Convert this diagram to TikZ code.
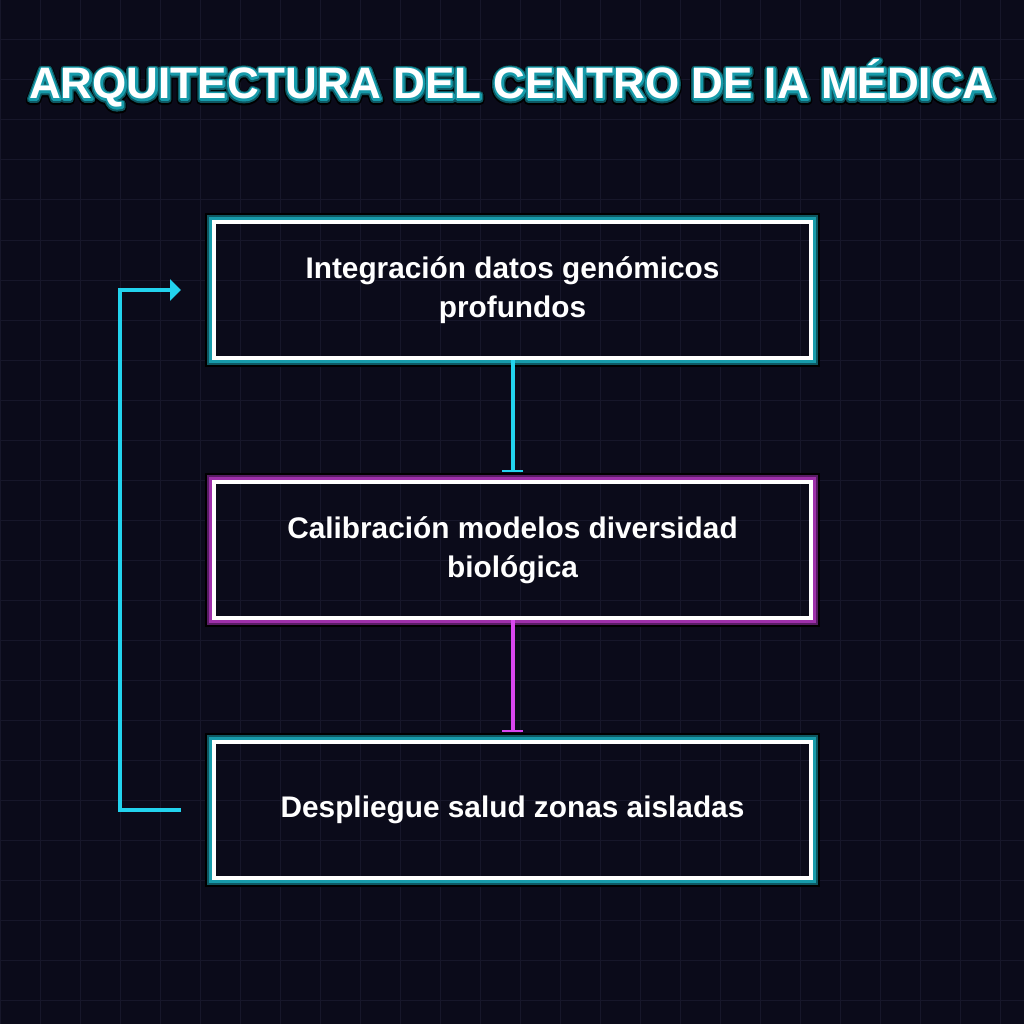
\documentclass[tikz,border=0pt]{standalone}
\usepackage{fontspec}
\setmainfont{Liberation Sans}
\newfontfamily\glowK[FakeBold=20.5]{Liberation Sans Bold}
\newfontfamily\glowD[FakeBold=15.5]{Liberation Sans Bold}
\newfontfamily\glowT[FakeBold=9]{Liberation Sans Bold}
\usetikzlibrary{arrows.meta}
\definecolor{bgc}{RGB}{11,11,26}
\definecolor{gridc}{RGB}{23,23,42}
\definecolor{tealA}{RGB}{23,155,170}
\definecolor{tealB}{RGB}{14,88,98}
\definecolor{magA}{RGB}{158,48,170}
\definecolor{magB}{RGB}{88,28,100}
\definecolor{cyanl}{RGB}{34,211,238}
\definecolor{magl}{RGB}{217,70,239}
\newcommand{\myglow}[3]{%
  \draw[black, line width=2pt] ([shift={(-8.3,-8.3)}]#1.north west) rectangle ([shift={(8.3,8.3)}]#1.south east);
  \draw[#3, line width=2.4pt] ([shift={(-6.1,-6.1)}]#1.north west) rectangle ([shift={(6.1,6.1)}]#1.south east);
  \draw[#2, line width=3pt] ([shift={(-3.5,-3.5)}]#1.north west) rectangle ([shift={(3.5,3.5)}]#1.south east);
}
\newcommand{\mytitle}{ARQUITECTURA DEL CENTRO DE IA MÉDICA}
\begin{document}
\begin{tikzpicture}[x=1pt,y=-1pt,
  card/.style={draw=white, line width=4pt, minimum width=597pt, minimum height=136pt,
    inner sep=0pt, outer sep=0pt, align=center, text=white,
    font=\bfseries\fontsize{29.8}{39}\selectfont},
  titlesize/.style={anchor=base, inner sep=0pt, line join=round, miter limit=1},
  cyanline/.style={draw=cyanl, line width=4pt},
  magline/.style={draw=magl, line width=4pt},
  bartip/.style={-{Bar[width=21pt, line width=2.5pt]}}
]
\fill[bgc] (0,0) rectangle (1024,1024);
\useasboundingbox (0,0) rectangle (1024,1024);
\foreach \i in {0,40,...,1000} {
  \draw[gridc, line width=1pt] (\i,0) -- (\i,1024);
  \draw[gridc, line width=1pt] (0,\i) -- (1024,\i);
}
% title with glow
\begin{scope}[line join=round, miter limit=1]
\node[titlesize, text=black, font=\glowK\fontsize{44}{50}\selectfont] (titleK) at (512,100.5) {\mytitle};
\node[titlesize, text=tealB, font=\glowD\fontsize{44}{50}\selectfont] (titleD) at (512,99.5) {\mytitle};
\node[titlesize, text=tealA, font=\glowT\fontsize{44}{50}\selectfont] (titleT) at (512,99) {\mytitle};
\end{scope}
\node[titlesize, text=white, font=\bfseries\fontsize{44}{50}\selectfont] (title) at (512,99) {\mytitle};
% boxes
\node[card] (box1) at (512.5,290) {Integración datos genómicos\\profundos};
\node[card] (box2) at (512.5,550) {Calibración modelos diversidad\\biológica};
\node[card] (box3) at (512.5,810) {Despliegue salud zonas aisladas};
\myglow{box1}{tealA}{tealB}
\myglow{box2}{magA}{magB}
\myglow{box3}{tealA}{tealB}
% connectors
\draw[cyanline, bartip, shorten <=2pt, shorten >=10pt] (box1.south) -- (box2.north);
\draw[magline, bartip, shorten <=2pt, shorten >=10pt] (box2.south) -- (box3.north);
\coordinate (loopstart) at ([xshift=-33pt]box3.west);
\coordinate (loopend) at ([xshift=-33pt]box1.west);
\draw[cyanline, -{Triangle[length=11pt, width=21pt]}] (loopstart) -- ++(-61,0) |- (loopend);
\end{tikzpicture}
\end{document}
